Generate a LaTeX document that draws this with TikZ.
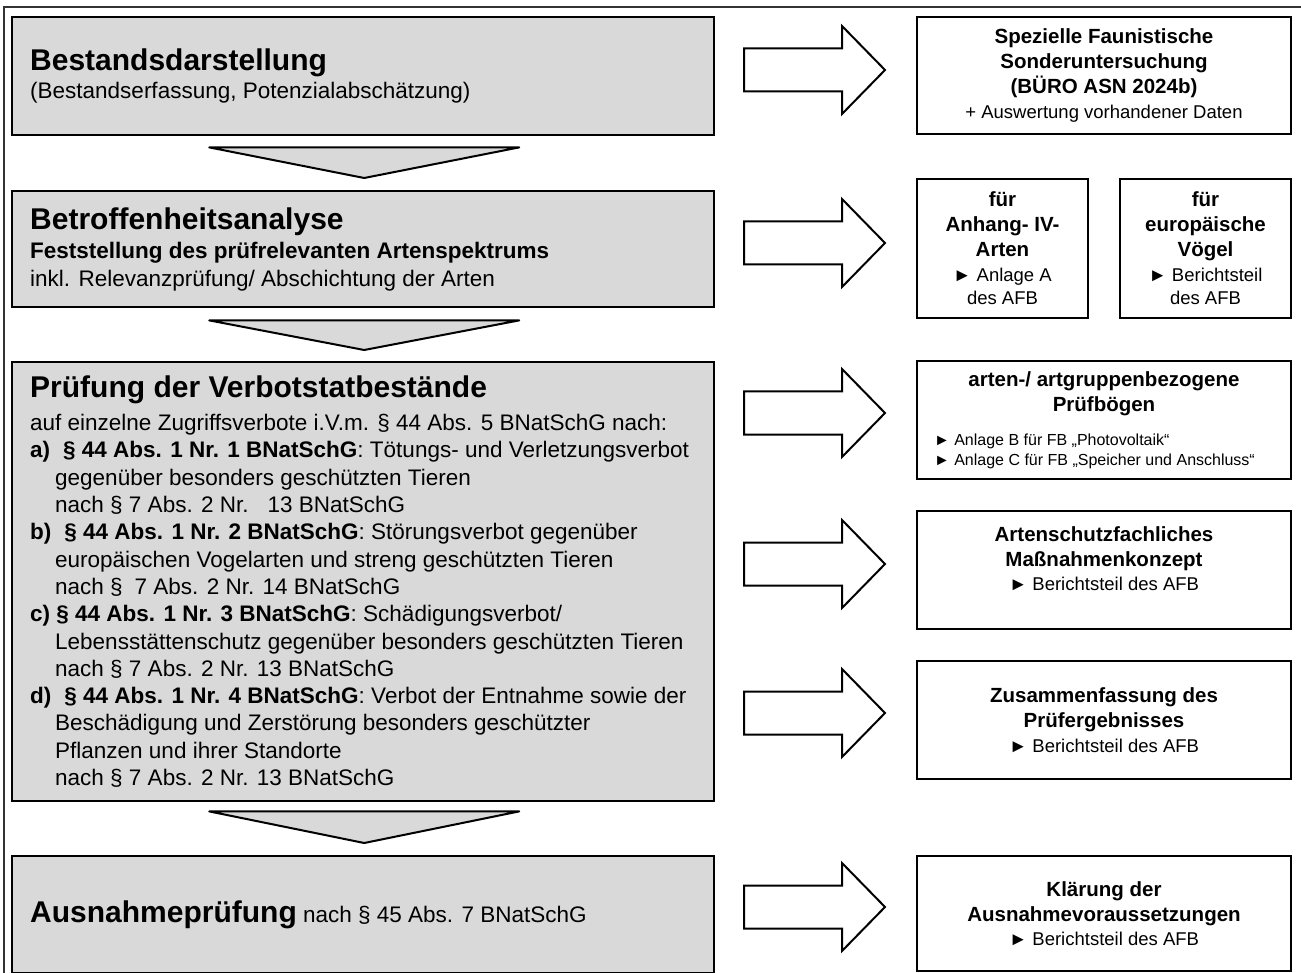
\documentclass[tikz,border=0pt]{standalone}
\usepackage{fontspec}
\setmainfont{Liberation Sans}
\usetikzlibrary{calc}
\definecolor{stagegray}{HTML}{D9D9D9}
\newcommand\stagetitle{\fontsize{30}{34}\selectfont\bfseries}
\newcommand\stagebody{\fontsize{22.5}{27.3}\selectfont}
\newcommand\resulthead{\fontsize{20.5}{25}\selectfont\bfseries}
\newcommand\resultnote{\fontsize{18.5}{25}\selectfont}
\newcommand\formnote{\fontsize{16}{20}\selectfont}
\begin{document}
\begin{tikzpicture}[x=1pt,y=-1pt,
  stage/.style={draw,line width=2.4pt,fill=stagegray,anchor=north west,inner sep=0pt,minimum width=702},
  stagetext/.style={anchor=west,align=left,inner sep=0pt,font=\stagebody},
  result/.style={draw,line width=2pt,fill=white,anchor=north west,align=center,inner sep=0pt,font=\resultnote},
  down/.style={draw,line width=2pt,fill=stagegray,line join=round},
  fat/.style={draw,line width=2pt,fill=white,line join=miter}]
\useasboundingbox (0,0) rectangle (1301,973);
\draw[line width=1.2pt,black!80] (4,973) -- (4,7) -- (1301,7);

% left column
\node[stage,minimum height=118] (b1) at (11,16) {};
\node[stagetext] (t1) at ($(b1.west)+(19,0)$) {{\stagetitle Bestandsdarstellung}\\[0.7pt]
(Bestandserfassung, Potenzialabschätzung)};

\node[stage,minimum height=116] (b2) at (11,190) {};
\node[stagetext] (t2) at ($(b2.west)+(19,0)$) {{\stagetitle Betroffenheitsanalyse}\\[2pt]
\textbf{Feststellung des prüfrelevanten Artenspektrums}\\
inkl. Relevanzprüfung/ Abschichtung der Arten};

\node[stage,minimum height=439] (b3) at (11,361) {};
\node[stagetext] (t3) at ($(b3.west)+(19,0)$) {{\stagetitle Prüfung der Verbotstatbestände}\\[5.7pt]
auf einzelne Zugriffsverbote i.V.m. § 44 Abs. 5 BNatSchG nach:\\
\textbf{a)\hspace{13pt}§ 44 Abs. 1 Nr. 1 BNatSchG}: Tötungs- und Verletzungsverbot\\
\hspace*{25pt}gegenüber besonders geschützten Tieren\\
\hspace*{25pt}nach § 7 Abs. 2 Nr.\hspace{19pt}13 BNatSchG\\
\textbf{b)\hspace{13pt}§ 44 Abs. 1 Nr. 2 BNatSchG}: Störungsverbot gegenüber\\
\hspace*{25pt}europäischen Vogelarten und streng geschützten Tieren\\
\hspace*{25pt}nach §\hspace{12pt}7 Abs. 2 Nr. 14 BNatSchG\\
\textbf{c) § 44 Abs. 1 Nr. 3 BNatSchG}: Schädigungsverbot/\\
\hspace*{25pt}Lebensstättenschutz gegenüber besonders geschützten Tieren\\
\hspace*{25pt}nach § 7 Abs. 2 Nr. 13 BNatSchG\\
\textbf{d)\hspace{13pt}§ 44 Abs. 1 Nr. 4 BNatSchG}: Verbot der Entnahme sowie der\\
\hspace*{25pt}Beschädigung und Zerstörung besonders geschützter\\
\hspace*{25pt}Pflanzen und ihrer Standorte\\
\hspace*{25pt}nach § 7 Abs. 2 Nr. 13 BNatSchG};

\node[stage,minimum height=117] (b4) at (11,855) {};
\node[stagetext] (t4) at ($(b4.west)+(19,0)$) {{\stagetitle Ausnahmeprüfung} nach § 45 Abs. 7 BNatSchG};

% down arrows
\draw[down] ($(b1.south)+(-154,11)$) -- ($(b1.south)+(156,11)$) -- ($(b2.north)+(1,-12)$) -- cycle;
\draw[down] ($(b2.south)+(-154,12)$) -- ($(b2.south)+(156,12)$) -- ($(b3.north)+(1,-11)$) -- cycle;
\draw[down] ($(b3.south)+(-154,9)$) -- ($(b3.south)+(156,9)$) -- ($(b4.north)+(1,-12)$) -- cycle;

% right column
\node[result,minimum width=374,minimum height=117] (r1) at (916,16) {{\resulthead Spezielle Faunistische}\\
{\resulthead Sonderuntersuchung}\\{\resulthead (BÜRO ASN 2024b)}\\+ Auswertung vorhandener Daten};

\node[result,minimum width=171,minimum height=139] (r2a) at (916,178) {{\resulthead für}\\
{\resulthead Anhang- IV-}\\{\resulthead Arten}\\► Anlage A\\[-2pt]des AFB};
\node[result,minimum width=171,minimum height=139] (r2b) at (1119,178) {{\resulthead für}\\
{\resulthead europäische}\\{\resulthead Vögel}\\► Berichtsteil\\[-2pt]des AFB};

\node[result,minimum width=374,minimum height=118] (r3) at (916,360) {{\resulthead arten-/ artgruppenbezogene}\\
{\resulthead Prüfbögen}\\[9pt]
{\formnote\makebox[340pt][l]{► Anlage B für FB „Photovoltaik“}}\\[-5pt]
{\formnote\makebox[340pt][l]{► Anlage C für FB „Speicher und Anschluss“}}};

\node[result,minimum width=374,minimum height=118] (r4) at (916,510) {{\resulthead Artenschutzfachliches}\\
{\resulthead Maßnahmenkonzept}\\[-1pt]► Berichtsteil des AFB\\[-2pt]\mbox{}};

\node[result,minimum width=374,minimum height=118] (r5) at (916,660) {{\resulthead Zusammenfassung des}\\
{\resulthead Prüfergebnisses}\\► Berichtsteil des AFB};

\node[result,minimum width=374,minimum height=115] (r6) at (916,855) {{\resulthead Klärung der}\\
{\resulthead Ausnahmevoraussetzungen}\\[-1pt]► Berichtsteil des AFB};

% block arrows
\foreach \y in {70,243,413,564,713,907}
  \draw[fat] (744,\y-21.5) -- (842,\y-21.5) -- (842,\y-44) -- (885,\y)
    -- (842,\y+44) -- (842,\y+21.5) -- (744,\y+21.5) -- cycle;
\end{tikzpicture}
\end{document}
